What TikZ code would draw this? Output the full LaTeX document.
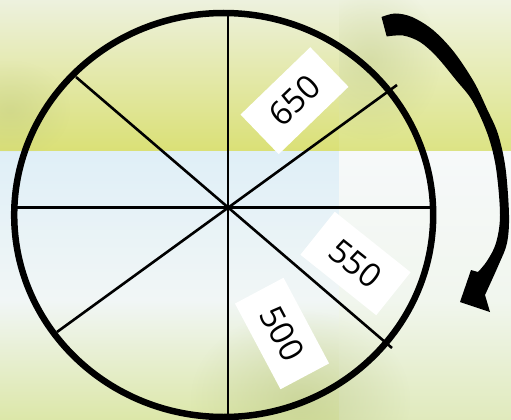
\documentclass[tikz,border=0pt]{standalone}
\usepackage{fontspec}
\setmainfont{Open Sans}
\usetikzlibrary{fadings}
\tikzfading[name=softdisc, inner color=transparent!0, outer color=transparent!100]
\definecolor{tla}{HTML}{EDF1DE}
\definecolor{tlb}{HTML}{DDE5AC}
\definecolor{tlc}{HTML}{DAE076}
\definecolor{tra}{HTML}{F0F4E2}
\definecolor{trb}{HTML}{DCE4A8}
\definecolor{trc}{HTML}{DCE384}
\definecolor{bla}{HTML}{DFEFF7}
\definecolor{blb}{HTML}{F1F6F6}
\definecolor{blc}{HTML}{DCE7A8}
\definecolor{bra}{HTML}{F6F9FA}
\definecolor{brb}{HTML}{F1F6EE}
\definecolor{brc}{HTML}{E0EABC}
\definecolor{olivepatch}{HTML}{B4C07C}
\tikzset{
  spoke/.style={line width=2.6pt, black},
  rim/.style={line width=6.5pt, black},
  labelbox/.style={fill=white, inner sep=0pt, minimum width=97pt, minimum height=55pt,
    font=\fontsize{33}{33}\selectfont},
}
\begin{document}
\begin{tikzpicture}[x=1pt,y=-1pt]
\useasboundingbox (0,0) rectangle (511,420);
% background
\shade[top color=tla, middle color=tlb, bottom color=tlc] (0,0) rectangle (339,151);
\shade[top color=tra, middle color=trb, bottom color=trc] (339,0) rectangle (511,151);
\shade[top color=bla, bottom color=blb] (0,151) rectangle (339,300.5);
\shade[top color=blb, bottom color=blc] (0,300) rectangle (339,420);
\shade[top color=bra, bottom color=brb] (339,151) rectangle (511,300.5);
\shade[top color=brb, bottom color=brc] (339,300) rectangle (511,420);
\begin{scope}
\clip (0,300) rectangle (511,420);
\fill[olivepatch, opacity=0.45, path fading=softdisc] (300,400) ellipse [x radius=110pt, y radius=90pt];
\end{scope}
\begin{scope}
\clip (339,0) rectangle (511,151);
\fill[olivepatch, opacity=0.35, path fading=softdisc] (370,60) ellipse [x radius=70pt, y radius=80pt];
\end{scope}
\begin{scope}
\clip (0,0) rectangle (339,151);
\fill[olivepatch, opacity=0.3, path fading=softdisc] (10,110) ellipse [x radius=60pt, y radius=50pt];
\end{scope}
% wheel
\coordinate (c) at (228,207);
\coordinate (w) at (17,207.3);
\coordinate (e) at (432,207.3);
\coordinate (n) at (228,16);
\coordinate (s) at (228,415);
\coordinate (nw) at (76,77);
\coordinate (se) at (392,348);
\coordinate (sw) at (57,332);
\coordinate (ne) at (397,85);
\draw[spoke] (w) -- (e);
\draw[spoke] (n) -- (s);
\draw[spoke] (nw) -- (se);
\draw[spoke] (sw) -- (ne);
\draw[rim] (223.7,215) ellipse [x radius=209.5pt, y radius=202pt];
% labels
\node[labelbox, rotate=44] (l650) at (294.5,100.7) {650};
\node[labelbox, rotate=-38.6] (l550) at (355.5,263.5) {550};
\node[labelbox, rotate=-62] (l500) at (282,333.5) {500};
% arrow
\fill[black] plot[smooth, tension=0.55] coordinates {(381.5,17) (395,13.5) (412,17) (433,30) (454,52) (474,82) (487,109) (498,134) (505.5,168) (509,215) (507,243) (499,264) (485,295)}
  -- (490,312) -- (460,302) -- (471,270)
  -- plot[smooth, tension=0.55] coordinates {(478,272) (487,261) (496,243) (500,215) (496,168) (487.5,134) (472.5,101) (456,80) (436.5,56.5) (420,42) (403,35.5) (386.7,36.5)}
  -- cycle;
\end{tikzpicture}
\end{document}
